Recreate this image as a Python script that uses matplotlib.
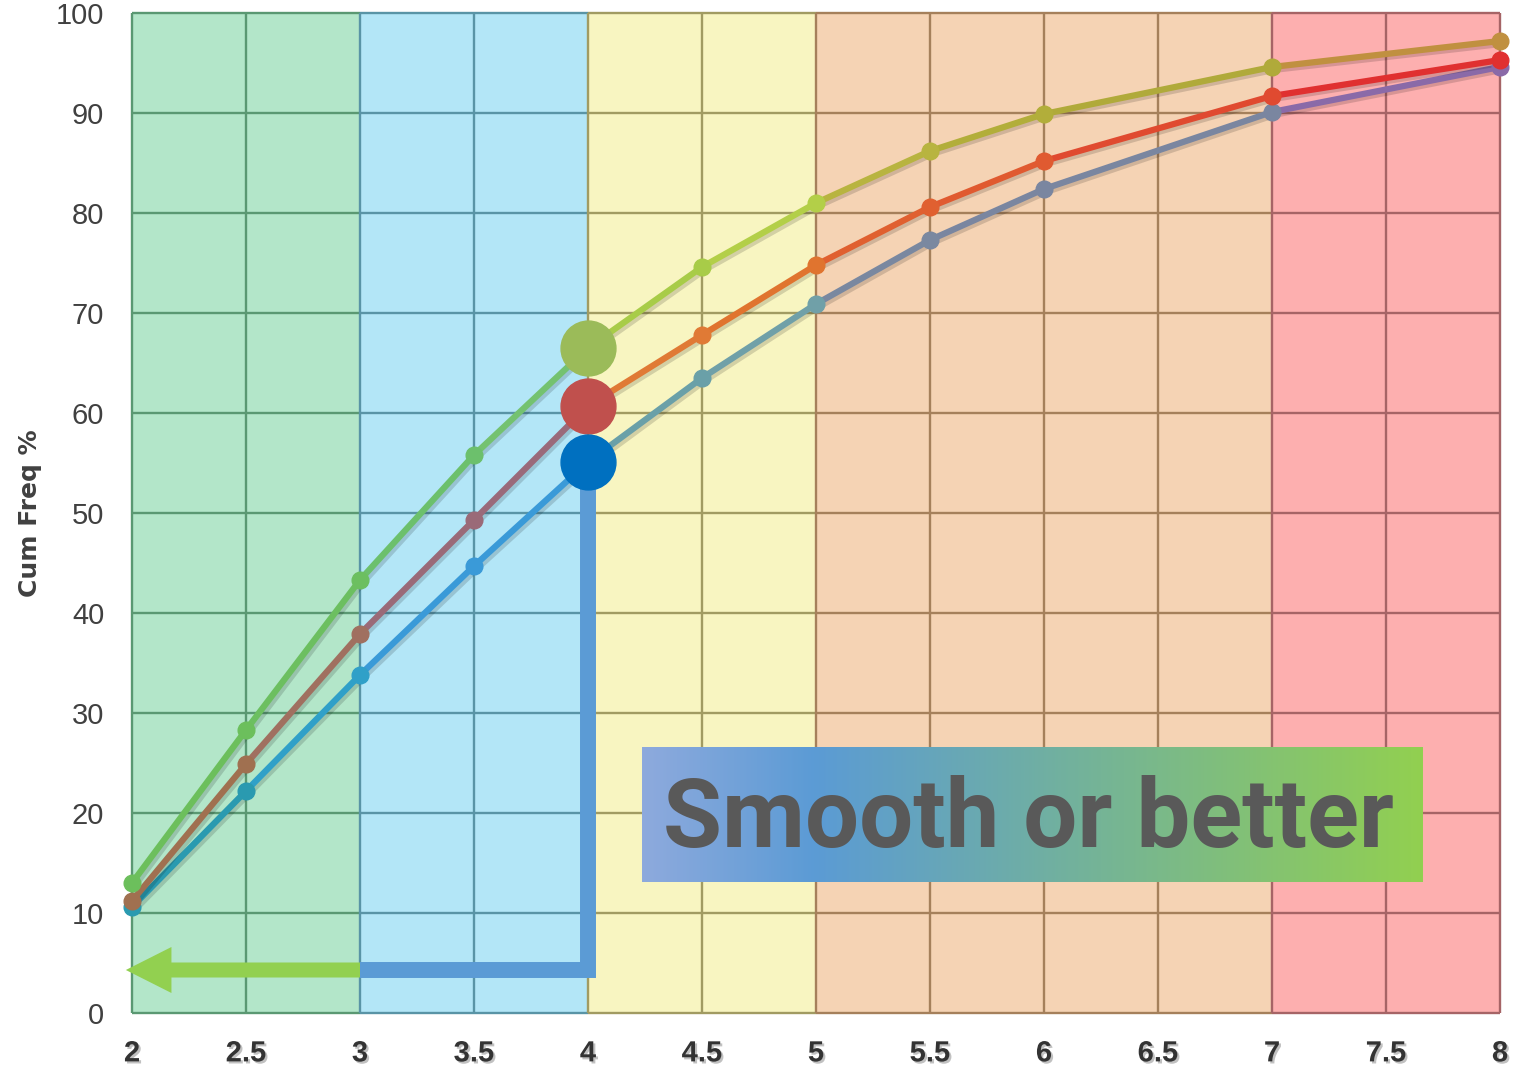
import matplotlib
matplotlib.use('Agg')
import matplotlib.pyplot as plt
import matplotlib.patheffects as pe
from matplotlib.patches import FancyArrow
from matplotlib.colors import to_rgb
import numpy as np

# Data
x_vals = [2, 2.5, 3, 3.5, 4, 4.5, 5, 5.5, 6, 7, 8]
top_pct = [13.0, 28.3, 43.3, 55.8, 66.5, 74.6, 81.0, 86.2, 89.9, 94.6, 97.2]
mid_pct = [11.2, 24.9, 37.9, 49.3, 60.7, 67.8, 74.8, 80.6, 85.2, 91.7, 95.3]
low_pct = [10.6, 22.2, 33.8, 44.7, 55.1, 63.5, 70.9, 77.3, 82.4, 90.1, 94.6]

x_ticks = [2, 2.5, 3, 3.5, 4, 4.5, 5, 5.5, 6, 6.5, 7, 7.5, 8]
x_ticklabels = ['2', '2.5', '3', '3.5', '4', '4.5', '5', '5.5', '6', '6.5', '7', '7.5', '8']
y_ticks = list(range(0, 101, 10))

band_edges = [2, 3, 4, 5, 7, 8]
band_colors = ['#b3e6c9', '#b3e6f7', '#f8f5c1', '#f5d3b4', '#fdafaf']
grid_colors = ['#5a9872', '#5994a6', '#a19b62', '#a5805b', '#a66466']

highlight_x = 4
highlight_vals = [66.5, 60.7, 55.1]
highlight_colors = ['#9bbb59', '#c0504d', '#0070c0']

path_y = 4.3
box_text = 'Smooth or better'

# per-segment colours (the original lines shift hue along their length)
top_seg = ['#6cbf5c', '#6cbf60', '#6cc06c', '#74c270', '#a8cc48', '#b3cf48',
           '#b8b440', '#b2ae3a', '#b0aa3a', '#c09040']
mid_seg = ['#a07050', '#a07060', '#9a6a78', '#9a6a7a', '#e07a35', '#e0742f',
           '#e06030', '#e05a30', '#e04a30', '#e03030']
low_seg = ['#2a9ab0', '#30a0c8', '#3a9ad8', '#3a9ad8', '#6aa0a8', '#70a0a8',
           '#7a88a0', '#7a86a0', '#7a86a0', '#8a6aa8']

fig = plt.figure(figsize=(15.4, 10.7), dpi=100)
ax = fig.add_axes([132/1540, 57/1070, 1368/1540, 1000/1070])

for i, c in enumerate(band_colors):
    ax.axvspan(band_edges[i], band_edges[i+1], color=c, zorder=0, lw=0)

# grid drawn band by band so it takes the tint of each band
glw = 1.7
last = len(grid_colors) - 1
for i, gc in enumerate(grid_colors):
    x0, x1 = band_edges[i], band_edges[i+1]
    ax.hlines(y_ticks, x0, x1, colors=gc, lw=glw, zorder=1, clip_on=False)
    for xt in x_ticks:
        if x0 <= xt < x1 or (i == last and xt == x1):
            ax.vlines(xt, 0, 100, colors=gc, lw=glw, zorder=1, clip_on=False)
for s in ax.spines.values():
    s.set_visible(False)

ax.set_xlim(2, 8)
ax.set_ylim(0, 100)
ax.set_xticks(x_ticks)
ax.set_xticklabels(x_ticklabels)
ax.set_yticks(y_ticks)

ax.tick_params(length=0)
ax.tick_params(axis='y', pad=20, labelsize=21, labelcolor='#404040')
ax.tick_params(axis='x', pad=19, labelsize=21, labelcolor='#333333')
for lab in ax.get_yticklabels():
    lab.set_family('Liberation Sans')
for lab in ax.get_xticklabels():
    lab.set_family('Liberation Sans')
    lab.set_fontweight('bold')
    lab.set_path_effects([pe.withSimplePatchShadow(offset=(1.5, -1.5), shadow_rgbFace='#999999', alpha=0.6)])

ax.set_ylabel('Cum Freq %', fontsize=18, fontweight='bold', color='#404040')
ax.yaxis.set_label_coords(-0.066, 0.5)

shadow = [pe.SimpleLineShadow(offset=(2, -2), shadow_color='#000000', alpha=0.15), pe.Normal()]
for vals, segs in [(low_pct, low_seg), (mid_pct, mid_seg), (top_pct, top_seg)]:
    for i in range(len(x_vals) - 1):
        ax.plot(x_vals[i:i+2], vals[i:i+2], color=segs[i], lw=4.5,
                solid_capstyle='round', zorder=3, path_effects=shadow)
    pt_colors = [segs[0]] + segs
    for xv, yv, pc in zip(x_vals, vals, pt_colors):
        ax.plot(xv, yv, 'o', ms=12, color=pc, mec=pc, zorder=4, clip_on=False)

# blue path + green arrow
ax.plot([highlight_x, highlight_x, 3], [highlight_vals[2], path_y, path_y],
        color='#5b9bd5', lw=11.5, solid_joinstyle='miter', solid_capstyle='butt', zorder=5)
ax.add_patch(FancyArrow(3, path_y, -1.027, 0, width=1.5, head_width=4.6,
                        head_length=0.2, length_includes_head=True,
                        color='#92d050', lw=0, zorder=5, clip_on=False))

for v, c in zip(highlight_vals, highlight_colors):
    ax.plot(highlight_x, v, 'o', ms=39.5, color=c, mec=c, zorder=6)

# gradient text box
stops = [0.0, 0.22, 1.0]
cols = np.array([to_rgb('#8eaadd'), to_rgb('#5b9bd5'), to_rgb('#92d050')])
t = np.linspace(0, 1, 400)
grad = np.stack([np.interp(t, stops, cols[:, k]) for k in range(3)], axis=-1)[None, :, :]
ax.imshow(grad, extent=(4.237, 7.662, 13.1, 26.6), aspect='auto', zorder=7)
ax.text(5.93, 16.6, box_text, ha='center', va='baseline', fontsize=69,
        fontweight='bold', color='#595959', family='Roboto', zorder=8)

ax.set_xlim(2, 8)
ax.set_ylim(0, 100)

fig.savefig('out.png', dpi=100)
